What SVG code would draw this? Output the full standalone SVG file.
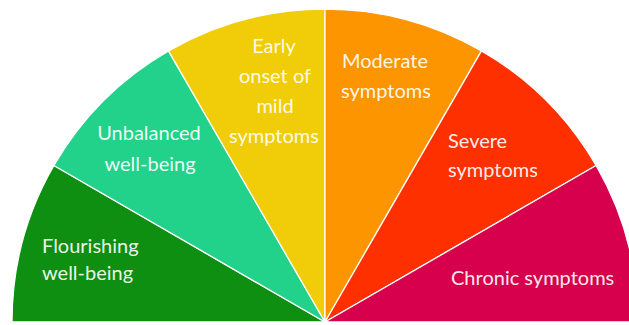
<svg xmlns="http://www.w3.org/2000/svg" width="629" height="325" viewBox="0 0 629 325">
<style>
.seg{stroke:#ffffff;stroke-width:1.3;stroke-linejoin:round}
.lbl{font-family:Lato,"Open Sans","Liberation Sans",sans-serif;font-size:20px;fill:#ffffff;fill-opacity:0.93}
.mid{text-anchor:middle}
</style>
<rect width="629" height="325" fill="#ffffff"/>
<g id="flourishing">
<path class="seg" d="M325 322 L12 322 A313 313 0 0 1 53.9 165.5 Z" fill="#0f8f12"/>
<text class="lbl" x="42" y="253">Flourishing</text>
<text class="lbl" x="42" y="280">well-being</text>
</g>
<g id="unbalanced">
<path class="seg" d="M325 322 L53.9 165.5 A313 313 0 0 1 168.5 50.9 Z" fill="#22d28a"/>
<text class="lbl mid" x="149" y="140">Unbalanced</text>
<text class="lbl mid" x="150" y="171">well-being</text>
</g>
<g id="early">
<path class="seg" d="M325 322 L168.5 50.9 A313 313 0 0 1 325 9 Z" fill="#f1cc08"/>
<text class="lbl mid" x="274" y="53">Early</text>
<text class="lbl mid" x="275" y="83">onset of</text>
<text class="lbl mid" x="275" y="113">mild</text>
<text class="lbl mid" x="274" y="143">symptoms</text>
</g>
<g id="moderate">
<path class="seg" d="M325 322 L325 9 A313 313 0 0 1 481.5 50.9 Z" fill="#fd9500"/>
<text class="lbl" x="342" y="68">Moderate</text>
<text class="lbl" x="341" y="98">symptoms</text>
</g>
<g id="severe">
<path class="seg" d="M325 322 L481.5 50.9 A313 313 0 0 1 596.1 165.5 Z" fill="#fe3000"/>
<text class="lbl" x="448" y="148">Severe</text>
<text class="lbl" x="448" y="177">symptoms</text>
</g>
<g id="chronic">
<path class="seg" d="M325 322 L596.1 165.5 A313 313 0 0 1 638 322 Z" fill="#d7004c"/>
<text class="lbl" x="451" y="285">Chronic symptoms</text>
</g>
</svg>
